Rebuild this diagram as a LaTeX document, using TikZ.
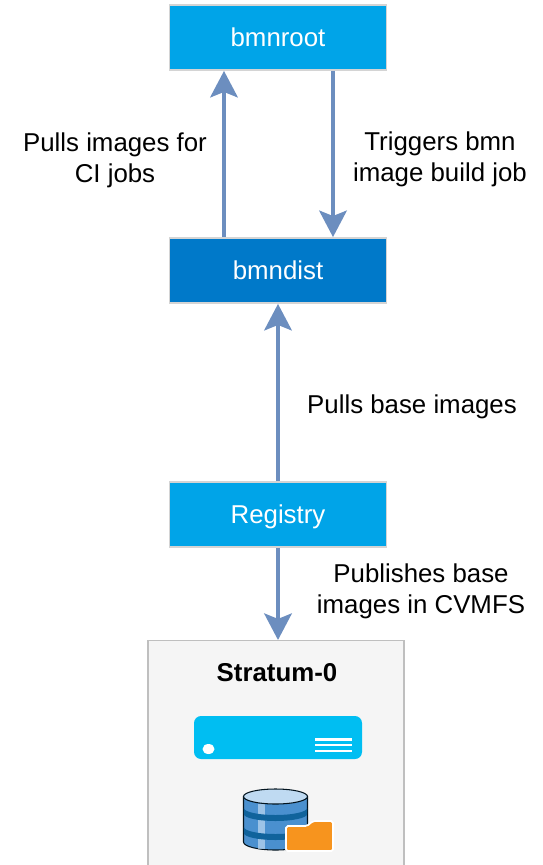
\documentclass[tikz,border=0pt]{standalone}
\usepackage{fontspec}
\setmainfont{Liberation Sans}
\usepackage{tikz}
\usetikzlibrary{arrows.meta}

\definecolor{rootblue}{HTML}{00A4E8}
\definecolor{distblue}{HTML}{0079C9}
\definecolor{flowblue}{HTML}{6C8EBF}
\definecolor{serverblue}{HTML}{00BEF2}
\definecolor{dbblue}{HTML}{4A90CF}
\definecolor{dbdark}{HTML}{10639C}
\definecolor{dblight}{HTML}{BFDAF2}
\definecolor{folderorange}{HTML}{F7941E}

\begin{document}
\begin{tikzpicture}[x=0.02cm,y=-0.02cm,>={Stealth[length=15pt,width=15.5pt,inset=3pt]},
    textsize/.style={font=\fontsize{14.7}{17.5}\selectfont},
    box/.style={draw=black!17,line width=1pt,text=white,minimum width=217*0.02cm,minimum height=65*0.02cm,inner sep=0pt,text height=9.7pt,text depth=0pt,textsize},
    note/.style={align=center,inner sep=0pt,textsize},
    flow/.style={draw=flowblue,line width=2.8pt,->}]
      \clip (0,0) rectangle (542,865);

      \node[box,fill=rootblue] (bmnroot)  at (278,37.5)  {bmnroot};
      \node[box,fill=distblue] (bmndist)  at (278,270.5) {bmndist};
      \node[box,fill=rootblue] (registry) at (278,514.5) {Registry};
      \node[draw=black!25,fill=black!4,line width=0.8pt,minimum width=256*0.02cm,minimum height=260*0.02cm,inner sep=0pt,anchor=north] (stratum) at (276,640) {};

      \draw[flow] ([xshift=-54*0.02cm]bmndist.north) -- ([xshift=-54*0.02cm]bmnroot.south);
      \draw[flow] ([xshift=55*0.02cm]bmnroot.south) -- ([xshift=55*0.02cm]bmndist.north);
      \draw[flow] (registry) -- (bmndist);
      \draw[flow] (registry.south) -- ([xshift=2*0.02cm]stratum.north);

      \node[note] (pullsci)   at (115,160) {Pulls images for\\CI jobs};
      \node[note] (triggers)  at (440,159) {Triggers bmn\\image build job};
      \node[note] (pullsbase) at (412,407) {Pulls base images};
      \node[note] (publishes) at (421,591) {Publishes base\\images in CVMFS};
      \node[note,font=\fontsize{14.7}{17}\selectfont\bfseries] (stratumtitle) at (277,673) {Stratum-0};

      \fill[serverblue,rounded corners=4pt] (194,716) rectangle (362,759);
      \fill[white] (208.5,749) ellipse (6 and 5);
      \foreach \y in {739.5,745,751}
        \draw[white,line width=1.4pt] (315,\y) -- (352,\y);

      \draw[black!80!dbdark,line width=0.6pt,fill=dbblue] (243.5,797) -- (243.5,842)
        arc[start angle=180,end angle=0,x radius=32,y radius=8] -- (307.5,797) -- cycle;
      \fill[dblight,opacity=0.7] (258,804) rectangle (265,849);
      \foreach \y in {808,827}
        \fill[dbdark] (243.8,\y) arc[start angle=180,end angle=0,x radius=31.7,y radius=7]
          -- ++(0,6) arc[start angle=0,end angle=180,x radius=31.7,y radius=7] -- cycle;
      \draw[black!80!dbdark,line width=0.6pt,fill=dblight] (275.5,796.5) ellipse (32 and 7.5);

      \draw[white,line width=1pt,fill=folderorange,rounded corners=1pt] (286,826) -- (307,826) -- (313,821)
        -- (333,821) -- (333,851) -- (286,851) -- cycle;
\end{tikzpicture}
\end{document}
